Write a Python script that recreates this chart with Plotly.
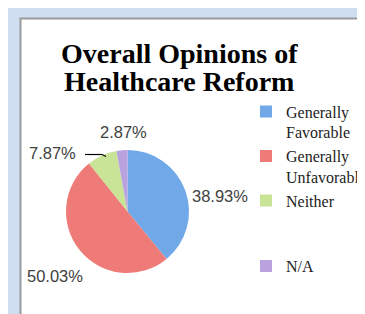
import plotly.graph_objects as go

categories = ["Generally Favorable", "Generally Unfavorable", "Neither", "N/A"]
legend_labels = ["Generally<br>Favorable", "Generally<br>Unfavorable", "Neither<br> <br> ", "N/A"]
values = [38.93, 50.03, 7.87, 2.87]
colors = ["#70a8e8", "#ee7b77", "#c9e496", "#b9a2de"]

W, H = 365, 314

def px(x):
    return x / W

def py(y):
    return 1 - y / H

fig = go.Figure()
fig.add_trace(go.Pie(
    labels=legend_labels,
    values=values,
    sort=False,
    direction="clockwise",
    rotation=0,
    marker=dict(colors=colors, line=dict(width=0)),
    textinfo="none",
    hoverinfo="label+percent",
    domain=dict(x=[px(58), px(181)], y=[py(265), py(142)]),
    showlegend=True,
))

# percent labels placed around the pie
label_pos = [(212, 188), (46.5, 268), (44, 145), (115, 124)]
ann = []
for v, (x, y) in zip(values, label_pos):
    ann.append(dict(
        text=f"{v:.2f}%", x=px(x), y=py(y), xref="paper", yref="paper",
        showarrow=False, xanchor="center", yanchor="middle",
        font=dict(family="Liberation Sans", size=16.5, color="#404040"),
    ))

title_lines = ["Overall Opinions of", "Healthcare Reform"]
for i, t in enumerate(title_lines):
    ann.append(dict(
        text=f"<b>{t}</b>", x=px(171), y=py(46 + 28 * i), xref="paper", yref="paper",
        showarrow=False, xanchor="center", yanchor="middle",
        font=dict(family="Liberation Serif", size=28, color="#000000"),
    ))

fig.update_layout(
    width=W, height=H,
    margin=dict(l=0, r=0, t=0, b=0),
    paper_bgcolor="#cfdff1",
    plot_bgcolor="#ffffff",
    annotations=ann,
    shapes=[
        dict(type="rect", xref="paper", yref="paper",
             x0=px(12.5), x1=1.1, y0=-0.1, y1=py(10.5),
             fillcolor="#ffffff", line=dict(color="#9a9a9a", width=2), layer="below"),
        dict(type="line", xref="paper", yref="paper",
             x0=px(77), x1=px(94), y0=py(146.5), y1=py(146.5),
             line=dict(color="#000000", width=1.2)),
        dict(type="line", xref="paper", yref="paper",
             x0=px(94), x1=px(98), y0=py(146.5), y1=py(148.5),
             line=dict(color="#000000", width=1.2)),
    ],
    legend=dict(
        x=px(238), y=py(86.5), xanchor="left", yanchor="top",
        valign="top", traceorder="normal",
        font=dict(family="Liberation Serif", size=16, color="#222222"),
        bgcolor="rgba(0,0,0,0)", tracegroupgap=0,
    ),
)

fig.write_html("out.html")
